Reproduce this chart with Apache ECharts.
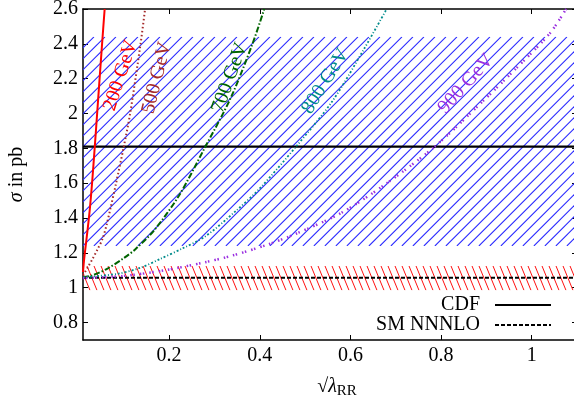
<!DOCTYPE html>
<html><head><meta charset="utf-8">
<script src="https://cdn.jsdelivr.net/npm/echarts@6/dist/echarts.min.js"></script>
<style>html,body{margin:0;padding:0;background:#fff}#c{width:574px;height:404px}</style>
</head><body><div id="c"></div>
<script>
// ---- data ----
const xTicks = [0.2, 0.4, 0.6, 0.8, 1.0];
const yTicks = [0.8, 1.0, 1.2, 1.4, 1.6, 1.8, 2.0, 2.2, 2.4, 2.6];
const xRange = [0.01, 1.1];
const yRange = [0.7, 2.6];
const cdfValue = 1.81;
const cdfBand = [1.24, 2.44];
const smValue = 1.057;
const smBand = [0.985, 1.125];
const massLabels = ['200 GeV', '500 GeV', '700 GeV', '800 GeV', '900 GeV'];
const curve200 = [[0.01,1.09],[0.012,1.15],[0.015,1.22],[0.02,1.33],[0.025,1.45],[0.03,1.6],[0.036,1.81],[0.0412,2.0],[0.0521,2.4],[0.0578,2.6]];
const curve500 = [[0.01,1.07],[0.02,1.115],[0.03,1.16],[0.042,1.22],[0.053,1.28],[0.062,1.36],[0.071,1.46],[0.083,1.6],[0.1,1.81],[0.114,2.0],[0.137,2.4],[0.147,2.6]];
const curve700 = [[0.01,1.06],[0.03,1.07],[0.064,1.11],[0.1,1.17],[0.125,1.22],[0.167,1.33],[0.222,1.53],[0.278,1.8],[0.336,2.09],[0.384,2.4],[0.41,2.6]];
const curve800 = [[0.01,1.06],[0.086,1.08],[0.137,1.115],[0.18,1.165],[0.229,1.225],[0.28,1.295],[0.347,1.44],[0.40,1.57],[0.48,1.81],[0.56,2.07],[0.63,2.37],[0.68,2.6]];
const curve900 = [[0.01,1.055],[0.1,1.068],[0.19,1.1],[0.277,1.145],[0.34,1.185],[0.414,1.245],[0.48,1.31],[0.58,1.43],[0.675,1.59],[0.786,1.81],[0.892,2.07],[0.966,2.26],[1.04,2.46],[1.076,2.6]];

// ---- styles ----
const FONT = "'Liberation Serif','DejaVu Serif','Times New Roman',serif";

function hatchSeries(band, color, spacing, dxPerDy, slash, lw) {
  return {
    type: 'custom', z: 1, silent: true,
    data: [[xRange[0], band[0], xRange[1], band[1]]],
    renderItem: function (params, api) {
      const tl = api.coord([api.value(0), api.value(3)]);
      const br = api.coord([api.value(2), api.value(1)]);
      const x0 = tl[0], y0 = tl[1], x1 = br[0], y1 = br[1], h = y1 - y0;
      const span = dxPerDy * h;
      const children = [];
      for (let a = x0 - span - spacing; a <= x1 + span + spacing; a += spacing) {
        const xb = slash ? a - span : a + span;
        children.push({ type: 'line', shape: { x1: a, y1: y0, x2: xb, y2: y1 },
          style: { stroke: color, lineWidth: lw } });
      }
      return { type: 'group', children: children,
        clipPath: { type: 'rect', shape: { x: x0, y: y0, width: x1 - x0, height: h } } };
    }
  };
}

function curveSeries(name, data, color, dash, width, label, coord, rot) {
  return {
    type: 'line', name: name, data: data, smooth: 0.3, symbol: 'none', z: 5,
    lineStyle: { color: color, width: width, type: dash, cap: 'butt' },
    markPoint: {
      symbol: 'circle', symbolSize: 0, silent: true,
      data: [{ coord: coord }],
      label: { show: true, position: 'inside', rotate: rot, formatter: label,
        color: color, fontFamily: FONT, fontSize: 20 }
    }
  };
}

const axisLineStyle = { color: '#000', width: 1.5 };
const tickStyle = { color: '#000', width: 1 };
const labelStyle = { fontFamily: FONT, fontSize: 20, color: '#000' };

const chart = echarts.init(document.getElementById('c'), null, { renderer: 'canvas' });
chart.setOption({
  animation: false,
  backgroundColor: '#fff',
  grid: { left: 83, top: 9, width: 494, height: 331, containLabel: false, outerBoundsMode: 'none' },
  xAxis: [
    { type: 'value', min: xRange[0], max: xRange[1], position: 'bottom',
      axisLine: { lineStyle: axisLineStyle },
      axisTick: { inside: true, length: 5, customValues: xTicks, lineStyle: tickStyle },
      axisLabel: Object.assign({ customValues: xTicks, margin: 6 }, labelStyle),
      splitLine: { show: false },
      name: '√{i|λ}{s|RR}', nameLocation: 'middle', nameGap: 34,
      nameTextStyle: { fontFamily: FONT, fontSize: 20, color: '#000', padding: [0, 0, 0, 14],
        rich: { i: { fontFamily: FONT, fontSize: 20, fontStyle: 'italic' },
                s: { fontFamily: FONT, fontSize: 15, padding: [10, 0, 0, 0] } } } },
    { type: 'value', min: xRange[0], max: xRange[1], position: 'top',
      axisLine: { lineStyle: axisLineStyle },
      axisTick: { inside: true, length: 5, customValues: xTicks, lineStyle: tickStyle },
      axisLabel: { show: false }, splitLine: { show: false } }
  ],
  yAxis: [
    { type: 'value', min: yRange[0], max: yRange[1], position: 'left',
      axisLine: { show: true, lineStyle: axisLineStyle },
      axisTick: { show: true, inside: true, length: 5, customValues: yTicks, lineStyle: tickStyle },
      axisLabel: Object.assign({ customValues: yTicks, margin: 5 }, labelStyle),
      splitLine: { show: false },
      name: '{i|σ} in pb', nameLocation: 'middle', nameGap: 56, nameRotate: 90,
      nameTextStyle: { fontFamily: FONT, fontSize: 20, color: '#000',
        rich: { i: { fontFamily: FONT, fontSize: 20, fontStyle: 'italic' } } } },
    { type: 'value', min: yRange[0], max: yRange[1], position: 'right',
      axisLine: { show: true, lineStyle: axisLineStyle },
      axisTick: { show: true, inside: true, length: 5, customValues: yTicks, lineStyle: tickStyle },
      axisLabel: { show: false }, splitLine: { show: false } }
  ],
  legend: {
    data: ['CDF', 'SM NNNLO'], orient: 'vertical', align: 'right',
    right: 22, top: 295, padding: 0, itemGap: 0, itemWidth: 56, itemHeight: 14,
    selectedMode: false,
    itemStyle: { color: 'rgba(0,0,0,0)', borderColor: 'rgba(0,0,0,0)', borderWidth: 0, opacity: 0 },
    textStyle: { fontFamily: FONT, fontSize: 20, color: '#000', lineHeight: 20, padding: [0, 10, 0, 0] }
  },
  series: [
    hatchSeries(cdfBand, '#2828ff', 11, 1, true, 1.1),
    hatchSeries(smBand, '#ff1010', 7, 0.41, false, 1),
    { type: 'line', name: 'CDF', data: [[xRange[0], cdfValue], [xRange[1], cdfValue]], symbol: 'none', z: 4,
      lineStyle: { color: '#000', width: 2.2, type: 'solid' } },
    { type: 'line', name: 'SM NNNLO', data: [[xRange[0], smValue], [xRange[1], smValue]], symbol: 'none', z: 4,
      lineStyle: { color: '#000', width: 2, type: [4, 2] } },
    curveSeries(massLabels[0], curve200, '#ff0000', 'solid', 2, massLabels[0], [0.093, 2.218], 72),
    curveSeries(massLabels[1], curve500, '#a52a2a', [1.5, 2.5], 2, massLabels[1], [0.173, 2.205], 76),
    curveSeries(massLabels[2], curve700, '#006400', [6, 2, 1.5, 2], 2, massLabels[2], [0.334, 2.205], 70),
    curveSeries(massLabels[3], curve800, '#008b8b', [2, 2, 1, 2], 1.8, massLabels[3], [0.545, 2.185], 58),
    curveSeries(massLabels[4], curve900, '#9b30e0', [1.5, 1.5, 1.5, 5], 2.5, massLabels[4], [0.855, 2.17], 48)
  ]
});
</script>
</body></html>
